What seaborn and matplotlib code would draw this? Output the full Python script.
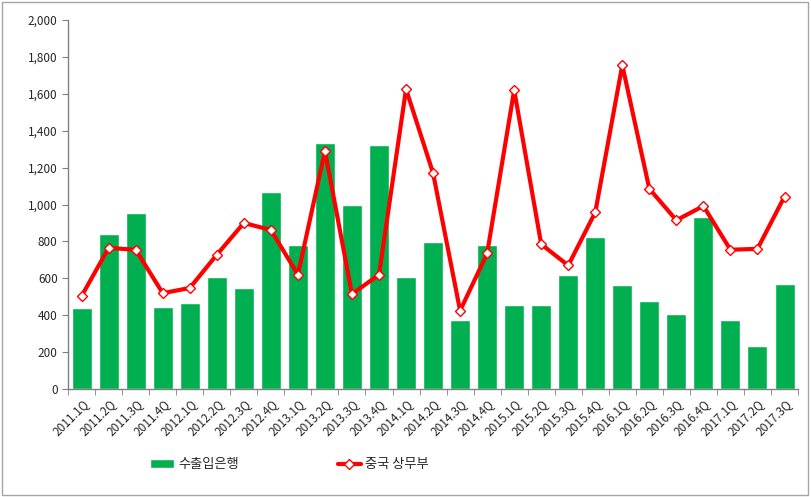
import numpy as np
import pandas as pd
import matplotlib
matplotlib.use("Agg")
import matplotlib.pyplot as plt
import matplotlib.ticker as mticker
from matplotlib.patches import Rectangle
import seaborn as sns

# quarters 2011.1Q ~ 2017.3Q
quarters = [f"{y}.{q}Q" for y in range(2011, 2018) for q in range(1, 5)][:27]

# 수출입은행 (bars)
exim_bank = [440, 840, 955, 445, 465, 610, 550, 1070, 780, 1335, 995, 1325, 610,
             795, 372, 780, 455, 455, 620, 822, 565, 477, 406, 930, 377, 232, 570]

# 중국 상무부 (line)
mofcom = [505, 765, 755, 520, 548, 728, 900, 862, 620, 1290, 515, 620, 1625,
          1170, 425, 735, 1620, 785, 670, 958, 1755, 1085, 915, 992, 755, 760, 1043]

BAR_LABEL = "수출입은행"
LINE_LABEL = "중국 상무부"


def build_frame() -> pd.DataFrame:
    df = pd.DataFrame({"quarter": quarters, "exim": exim_bank, "mofcom": mofcom})
    df["pos"] = np.arange(len(df))
    return df


if __name__ == "__main__":
    df = build_frame()

    sns.set_style("white")
    plt.rcParams["font.family"] = ["Noto Sans CJK KR", "DejaVu Sans"]

    fig = plt.figure(figsize=(8.11, 4.97), dpi=100)
    ax = fig.add_axes([0.084, 0.217, 0.900, 0.743])

    # bars
    sns.barplot(data=df, x="quarter", y="exim", color="#00B050", saturation=1,
                width=0.74, ax=ax, label=BAR_LABEL, legend=False)

    # line with diamond markers
    sns.lineplot(data=df, x="pos", y="mofcom", color="#FF0000", linewidth=3,
                 marker="D", markersize=5, markerfacecolor="white",
                 markeredgecolor="#FF0000", markeredgewidth=1, sort=False,
                 ax=ax, label=LINE_LABEL, legend=False)

    ax.set_xlim(-0.5, len(df) - 0.5)
    ax.set_ylim(0, 2000)
    ax.yaxis.set_major_locator(mticker.MultipleLocator(200))
    ax.yaxis.set_major_formatter(mticker.FuncFormatter(lambda v, p: f"{int(v):,}"))
    ax.set_xlabel("")
    ax.set_ylabel("")

    # ticks between categories like excel
    ax.set_xticks(np.arange(len(df)))
    ax.set_xticklabels(quarters, rotation=45, ha="right", rotation_mode="anchor",
                       fontsize=8.5)
    ax.set_xticks(np.arange(len(df) + 1) - 0.5, minor=True)
    ax.tick_params(axis="x", which="major", length=0, pad=6)
    ax.tick_params(axis="x", which="minor", length=4, color="#808080", bottom=True)
    ax.tick_params(axis="y", length=4, color="#808080", left=True, labelsize=8.5)

    for s in ["top", "right"]:
        ax.spines[s].set_visible(False)
    for s in ["left", "bottom"]:
        ax.spines[s].set_color("#808080")
        ax.spines[s].set_linewidth(1)

    # legend: bars first, then line
    handles, labels = ax.get_legend_handles_labels()
    order = [labels.index(BAR_LABEL), labels.index(LINE_LABEL)]
    fig.legend([handles[i] for i in order], [labels[i] for i in order],
               loc="center", bbox_to_anchor=(0.357, 0.065),
               ncol=2, frameon=False, columnspacing=7.5, handlelength=1.8,
               handletextpad=0.3, fontsize=9.5)

    # chart border
    fig.patches.append(Rectangle((0.003, 0.004), 0.993, 0.992, transform=fig.transFigure,
                                 fill=False, edgecolor="#A6A6A6", linewidth=1))

    plt.savefig("out.png", dpi=100)
